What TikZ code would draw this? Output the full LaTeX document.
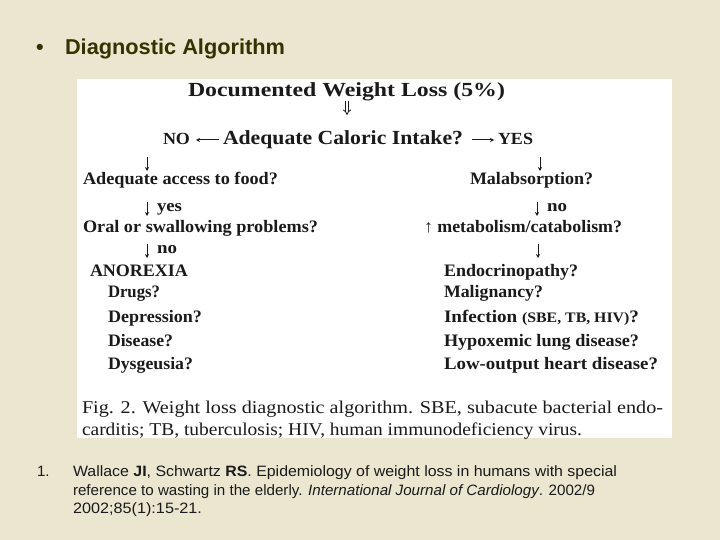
\documentclass[tikz,border=0pt]{standalone}
\usepackage{fontspec}
\setmainfont{Liberation Serif}
\newfontfamily\arialfont{Liberation Sans}
\usepackage{graphicx}
\usetikzlibrary{arrows.meta}
\definecolor{paper}{HTML}{EAE6D0}
\definecolor{titleink}{HTML}{333300}
\definecolor{figink}{HTML}{1A1A1A}
\definecolor{refink}{HTML}{1A1A1A}
\newcommand\fitw[2]{\resizebox{#1}{\height}{#2}}
\tikzset{
  txt/.style={inner sep=0pt, outer sep=0pt, anchor=base west},
  head/.style={txt, text=figink, font=\bfseries\fontsize{20bp}{23bp}\selectfont},
  item/.style={txt, text=figink, font=\bfseries\fontsize{17.5bp}{20bp}\selectfont},
  lab/.style={txt, text=figink, font=\bfseries\fontsize{17bp}{20bp}\selectfont},
  capt/.style={txt, text=figink, font=\fontsize{18bp}{21bp}\selectfont},
  reftxt/.style={txt, text=refink, font=\arialfont\fontsize{15bp}{18bp}\selectfont},
  arr/.style={draw=figink, line width=1bp, -{Stealth[length=4bp,width=4bp]}},
  dblarr/.style={draw=figink, double, double distance=2bp, line width=0.8bp, -{Implies}},
}
\begin{document}
\begin{tikzpicture}[x=1bp,y=-1bp]
\useasboundingbox (0,0) rectangle (720,540);
\fill[paper] (0,0) rectangle (720,540);
% title
\node[txt, text=titleink, font=\arialfont\bfseries\fontsize{21.5bp}{25bp}\selectfont] (bullet) at (36,55) {•};
\node[txt, text=titleink, font=\arialfont\bfseries\fontsize{21.5bp}{25bp}\selectfont] (title) at (65,55) {\fitw{220bp}{Diagnostic Algorithm}};
% scanned figure
\fill[white] (77,79) rectangle (672,438);
\node[head] (doc) at (188,97) {\fitw{317bp}{Documented Weight Loss (5\%)}};
\node[head] (calo) at (223,145) {\fitw{240bp}{Adequate Caloric Intake?}};
\node[lab] (no1) at (163,145) {\fitw{27bp}{NO}};
\node[lab] (yes1) at (498,145) {\fitw{35bp}{YES}};
\node[item] (access) at (83,185) {\fitw{195bp}{Adequate access to food?}};
\node[item] (malab) at (470,185) {\fitw{123bp}{Malabsorption?}};
\node[lab] (yesl) at (157,212) {\fitw{25bp}{yes}};
\node[lab] (nor) at (547,212) {\fitw{20bp}{no}};
\node[item] (oral) at (83,233) {\fitw{235bp}{Oral or swallowing problems?}};
\node[item] (metab) at (424,233) {\fitw{198bp}{↑ metabolism/catabolism?}};
\node[lab] (nol) at (157,254) {\fitw{20bp}{no}};
\node[item] (anorexia) at (90,277) {\fitw{98bp}{ANOREXIA}};
\node[item] (drugs) at (108,298) {\fitw{52bp}{Drugs?}};
\node[item] (depr) at (108,322) {\fitw{94bp}{Depression?}};
\node[item] (dis) at (108,346) {\fitw{65bp}{Disease?}};
\node[item] (dysg) at (108,369) {\fitw{85bp}{Dysgeusia?}};
\node[item] (endo) at (444,277) {\fitw{134bp}{Endocrinopathy?}};
\node[item] (malig) at (444,298) {\fitw{99bp}{Malignancy?}};
\node[item] (infect) at (444,322) {\fitw{195bp}{Infection {\fontsize{14.5bp}{17bp}\selectfont(SBE, TB, HIV)}?}};
\node[item] (hypox) at (444,346) {\fitw{195bp}{Hypoxemic lung disease?}};
\node[item] (lowout) at (444,369) {\fitw{214bp}{Low-output heart disease?}};
\node[capt] (cap1) at (82,413) {\fitw{581bp}{Fig. 2. Weight loss diagnostic algorithm. SBE, subacute bacterial endo-}};
\node[capt] (cap2) at (82,435) {\fitw{500bp}{carditis; TB, tuberculosis; HIV, human immunodeficiency virus.}};
% connectors
\coordinate (da) at (347,101); \coordinate (db) at (347,115);
\draw[dblarr] (da) -- (db);
\draw[arr] ([xshift=-4bp,yshift=5bp]calo.base west) -- ([xshift=6bp,yshift=5bp]no1.base east);
\draw[arr] ([xshift=9bp,yshift=5bp]calo.base east) -- ([xshift=-4bp,yshift=5bp]yes1.base west);
\coordinate (la1) at (147,157); \coordinate (lb1) at (147,171);
\coordinate (ra1) at (540,157); \coordinate (rb1) at (540,171);
\coordinate (la2) at (147,202); \coordinate (lb2) at (147,216);
\coordinate (ra2) at (537,202); \coordinate (rb2) at (537,216);
\coordinate (la3) at (147,244); \coordinate (lb3) at (147,258);
\coordinate (ra3) at (538,244); \coordinate (rb3) at (538,258);
\draw[arr] (la1) -- (lb1);
\draw[arr] (ra1) -- (rb1);
\draw[arr] (la2) -- (lb2);
\draw[arr] (ra2) -- (rb2);
\draw[arr] (la3) -- (lb3);
\draw[arr] (ra3) -- (rb3);
% reference
\node[reftxt] (refnum) at (37,476) {1.};
\node[reftxt] (ref1) at (73,476) {\fitw{544bp}{Wallace \textbf{JI}, Schwartz \textbf{RS}. Epidemiology of weight loss in humans with special}};
\node[reftxt] (ref2) at (73,495) {\fitw{522bp}{reference to wasting in the elderly. \textit{International Journal of Cardiology}. 2002/9}};
\node[reftxt] (ref3) at (73,513) {\fitw{129bp}{2002;85(1):15-21.}};
\end{tikzpicture}
\end{document}
